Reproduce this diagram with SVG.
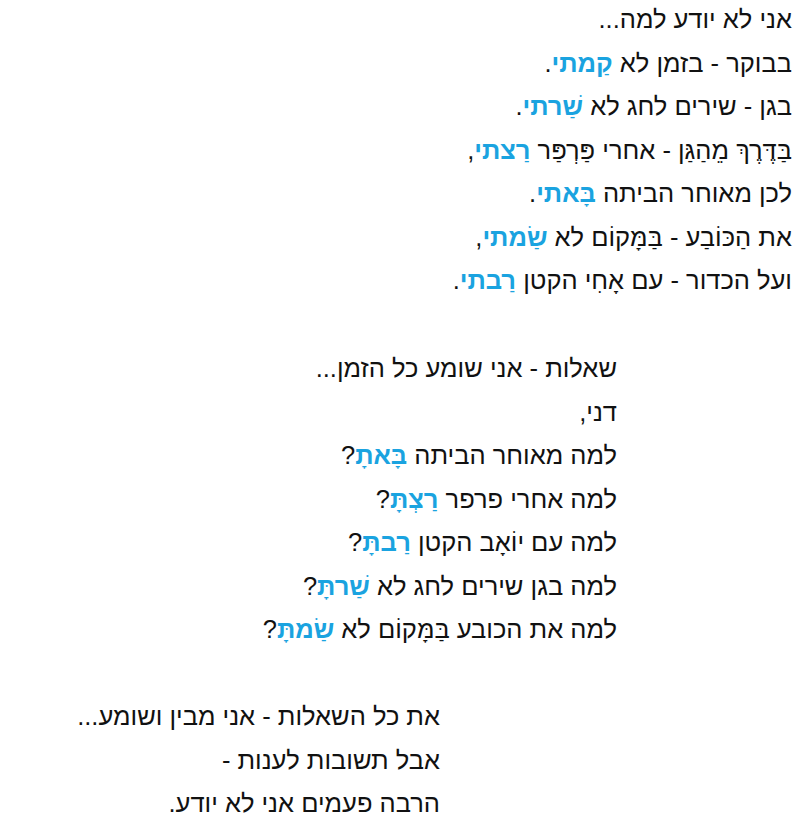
<svg xmlns="http://www.w3.org/2000/svg" width="794" height="825" viewBox="0 0 794 825">
<style>
text{font-family:"Liberation Sans","DejaVu Sans",sans-serif;font-size:25.5px;fill:#111;direction:rtl;unicode-bidi:embed;text-anchor:start}
.b{fill:#1aa3e0;font-weight:bold}
</style>
<rect width="794" height="825" fill="#fff"/>
<g id="stanza1">
<text x="792" y="28">אני לא יודע למה...</text>
<text x="792" y="72">בבוקר - בזמן לא <tspan class="b">קַמתי</tspan>.</text>
<text x="792" y="115">בגן - שירים לחג לא <tspan class="b">שַׁרתי</tspan>.</text>
<text x="792" y="159">בַּדֶּרֶךְ מֵהַגַּן - אחרי פַּרְפַּר <tspan class="b">רַצתי</tspan>,</text>
<text x="792" y="202">לכן מאוחר הביתה <tspan class="b">בָּאתי</tspan>.</text>
<text x="792" y="246">את הַכּוֹבַע - בַּמָּקוֹם לא <tspan class="b">שַׂמתי</tspan>,</text>
<text x="792" y="289">ועל הכדור - עם אָחִי הקטן <tspan class="b">רַבתי</tspan>.</text>
</g>
<g id="stanza2">
<text x="617" y="377">שאלות - אני שומע כל הזמן...</text>
<text x="617" y="421">דני,</text>
<text x="617" y="464">למה מאוחר הביתה <tspan class="b">בָּאתָ</tspan>?</text>
<text x="617" y="508">למה אחרי פרפר <tspan class="b">רַצְתָּ</tspan>?</text>
<text x="617" y="551">למה עם יוֹאָב הקטן <tspan class="b">רַבתָּ</tspan>?</text>
<text x="617" y="595">למה בגן שירים לחג לא <tspan class="b">שַׁרתָּ</tspan>?</text>
<text x="617" y="638">למה את הכובע בַּמָּקוֹם לא <tspan class="b">שַׂמתָּ</tspan>?</text>
</g>
<g id="stanza3">
<text x="440" y="725">את כל השאלות - אני מבין ושומע...</text>
<text x="440" y="769">אבל תשובות לענות -</text>
<text x="440" y="812">הרבה פעמים אני לא יודע.</text>
</g>
</svg>
